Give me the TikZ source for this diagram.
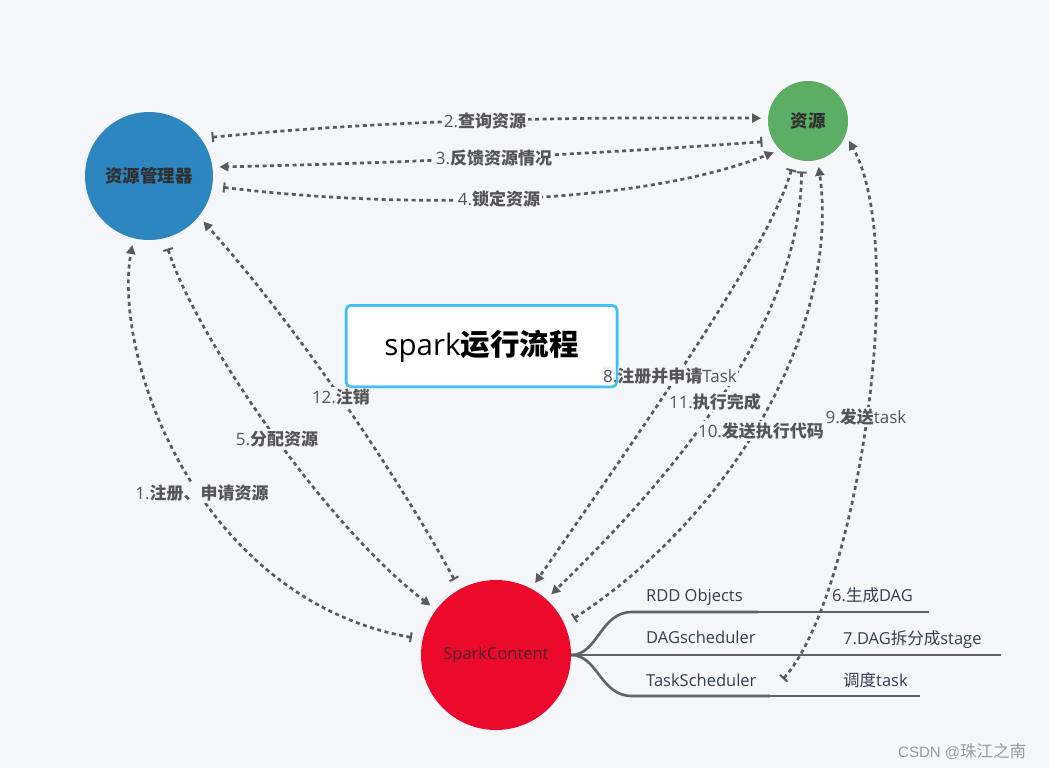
\documentclass[tikz,border=0pt]{standalone}
\usepackage{fontspec}
\setmainfont{Open Sans}
\newfontfamily\cjk{Noto Sans CJK SC}
\newfontfamily\wmfont{Liberation Sans}
\usetikzlibrary{arrows.meta}
\definecolor{bg}{HTML}{F5F6FA}
\definecolor{lc}{HTML}{5A5A5A}
\definecolor{rmblue}{HTML}{2E86C1}
\definecolor{resgreen}{HTML}{5BAE64}
\definecolor{scred}{HTML}{EB0A2C}
\definecolor{boxblue}{HTML}{3EC1F3}
\definecolor{lbl}{HTML}{555555}
\definecolor{brtext}{HTML}{333D4F}
\definecolor{brline}{HTML}{626262}
\definecolor{darktext}{HTML}{2F2F2F}
\definecolor{sctext}{HTML}{4A2028}
\definecolor{wm}{HTML}{9A9A9A}
\begin{document}
\begin{tikzpicture}[x=1pt,y=-1pt,
  conn/.style={draw=lc, line width=2.7pt, dash pattern=on 4pt off 3.5pt,
    {Bar[width=10pt,line width=2pt]}-{Triangle[length=9pt,width=9pt]},
    shorten <=11pt, shorten >=7pt},
  lab/.style={fill=bg, inner sep=1.5pt, text=lbl, font=\fontsize{17}{19}\selectfont},
  ball/.style={circle, inner sep=0pt, outer sep=0pt},
  brtxt/.style={anchor=base west, inner sep=0pt, text=brtext, font=\fontsize{16.5}{19}\selectfont},
  brthick/.style={draw=brline, line width=2.6pt},
  brthin/.style={draw=brline, line width=1.4pt},
  titleborder/.style={draw=boxblue, line width=2.5pt, rounded corners=5pt}
]
\fill[bg] (0,0) rectangle (1049,768);
\useasboundingbox (0,0) rectangle (1049,768);

% main nodes
\node[ball, fill=rmblue, minimum size=128pt, text=darktext, font=\cjk\bfseries\fontsize{17.5}{20}\selectfont] (rm) at (149,176) {资源管理器};
\node[ball, fill=resgreen, minimum size=80pt, text=darktext, font=\cjk\bfseries\fontsize{17.5}{20}\selectfont] (res) at (808,121) {资源};
\node[ball, fill=scred, minimum size=150pt, text=sctext, font=\fontsize{16.5}{19}\selectfont] (sc) at (496,655) {SparkContent};

% branch coordinates
\coordinate (b1) at (632,612); \coordinate (b1m) at (758,612); \coordinate (b1e) at (929,612);
\coordinate (b2m) at (770,655); \coordinate (b2e) at (1001,655);
\coordinate (b3) at (632,696); \coordinate (b3m) at (770,696); \coordinate (b3e) at (920,696);
\coordinate (tsend) at (783,679);

% branches
\draw[brthick] (sc.east) .. controls (598,655) and (600,612) .. (b1) -- (b1m);
\draw[brthin] (b1m) -- (b1e);
\draw[brthick] (sc.east) -- (b2m);
\draw[brthin] (b2m) -- (b2e);
\draw[brthick] (sc.east) .. controls (598,655) and (600,696) .. (b3) -- (b3m);
\draw[brthin] (b3m) -- (b3e);

% connectors
\draw[conn] (rm.36) .. controls (396,119) and (580,117) .. (res.176);
\draw[conn] (res.210) .. controls (580,155) and (400,163) .. (rm.8);
\draw[conn] (rm.-9) .. controls (410,210) and (640,205) .. (res.226);
\draw[conn] (sc.168) .. controls (200,600) and (112,360) .. (rm.256);
\draw[conn] (rm.284) .. controls (195,335) and (325,525) .. (sc.143);
\draw[conn] (sc.119) .. controls (400,480) and (300,330) .. (rm.-39);
\draw[conn] (res.250) .. controls (770,250) and (620,460) .. (sc.62);
\draw[conn] (res.261) .. controls (800,310) and (700,450) .. (sc.48);
\draw[conn] (sc.24) .. controls (740,510) and (840,320) .. (res.284);
\draw[conn, shorten <=0pt] (tsend) .. controls (855,600) and (910,250) .. (res.340);

% title box
\node[draw=boxblue, line width=2.5pt, fill=white, rounded corners=5pt, minimum width=271pt, minimum height=81.5pt, inner sep=0pt, outer sep=0pt, font=\fontsize{29.5}{33}\selectfont, text=black] (title) at (481.5,346) {spark{\cjk\bfseries 运行流程}};

% connector labels
\node[lab] (l2) at (485,121) {2.{\cjk\bfseries 查询资源}};
\node[lab] (l3) at (494,158) {3.{\cjk\bfseries 反馈资源情况}};
\node[lab] (l4) at (499,199) {4.{\cjk\bfseries 锁定资源}};
\node[lab] (l1) at (202,493) {1.{\cjk\bfseries 注册、申请资源}};
\node[lab] (l5) at (277,439) {5.{\cjk\bfseries 分配资源}};
\node[lab] (l12) at (341,397) {12.{\cjk\bfseries 注销}};
\node[lab] (l8) at (670,376) {8.{\cjk\bfseries 注册并申请}Task};
\node[lab] (l11) at (715,402) {11.{\cjk\bfseries 执行完成}};
\node[lab] (l10) at (761,431) {10.{\cjk\bfseries 发送执行代码}};
\node[lab] (l9) at (866,417) {9.{\cjk\bfseries 发送}task};

\draw[titleborder] (title.south west) rectangle (title.north east);

% branch texts
\node[brtxt] (t1) at (646,601) {RDD Objects};
\node[brtxt] (t1r) at (832,601) {6.{\cjk 生成}DAG};
\node[brtxt] (t2) at (646,643) {DAGscheduler};
\node[brtxt] (t2r) at (843,644) {7.DAG{\cjk 拆分成}stage};
\node[brtxt] (t3) at (646,686) {TaskScheduler};
\node[brtxt] (t3r) at (843,686) {{\cjk 调度}task};

% watermark
\node[anchor=base west, inner sep=0pt, text=wm, font=\wmfont\fontsize{15}{18}\selectfont] (wmk) at (898,757) {CSDN @{\cjk\fontsize{16.5}{18}\selectfont 珠江之南}};
\end{tikzpicture}
\end{document}
